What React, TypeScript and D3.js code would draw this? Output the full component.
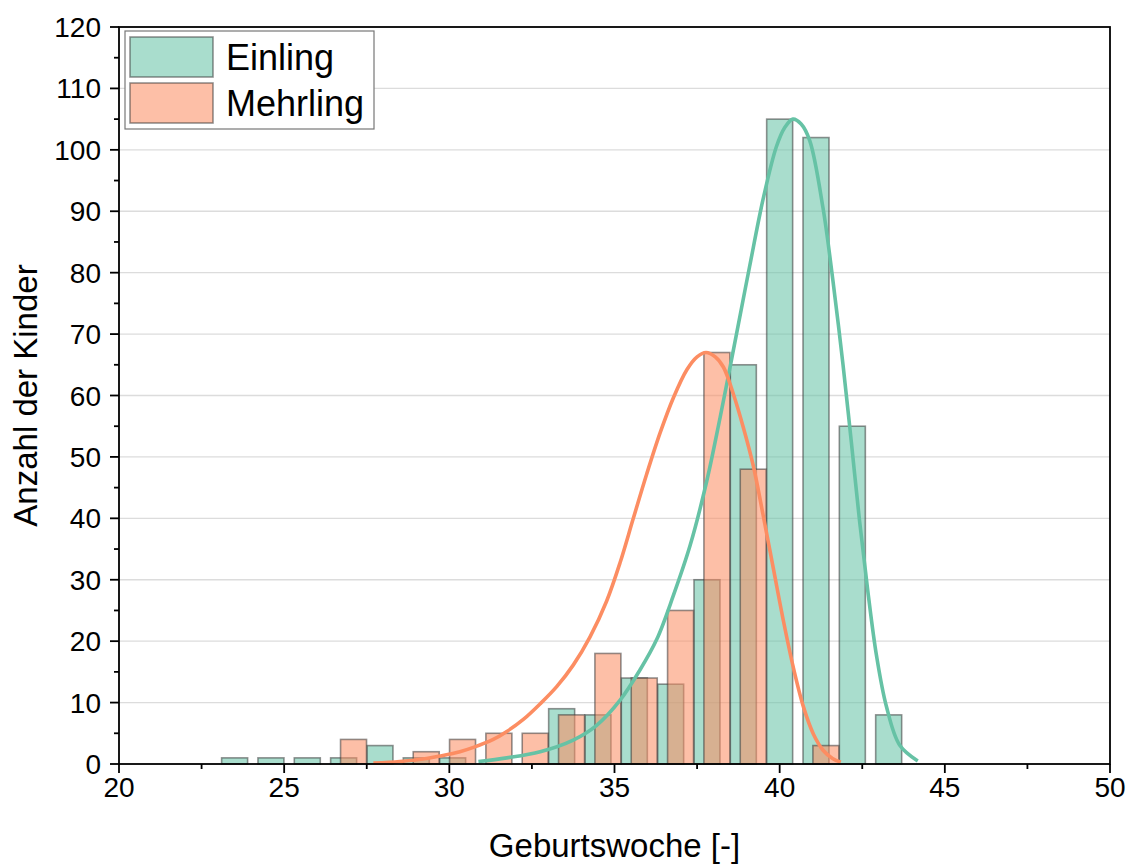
import React from 'react';
import * as d3 from 'd3';

// ---- data ----
const einlingWeeks = [23.5, 24.6, 25.7, 26.8, 27.9, 29.0, 30.1, 31.2, 32.3, 33.4, 34.5, 35.6, 36.7, 37.8, 38.9, 40.0, 41.1, 42.2, 43.3];
const einlingCounts = [1, 1, 1, 1, 3, 1, 1, 0, 0, 9, 8, 14, 13, 30, 65, 105, 102, 55, 8];

const mehrlingWeeks = [27.1, 28.2, 29.3, 30.4, 31.5, 32.6, 33.7, 34.8, 35.9, 37.0, 38.1, 39.2, 40.3, 41.4];
const mehrlingCounts = [4, 0, 2, 4, 5, 5, 8, 18, 14, 25, 67, 48, 0, 3];

// distribution curves
const einlingCurveX = [30.88, 31.74, 32.75, 33.75, 34.46, 35.17, 35.77, 36.28, 36.78, 37.29, 37.79, 38.2, 38.7, 39.09, 39.5, 39.9, 40.15, 40.4, 40.65, 40.91, 41.31, 41.61, 41.92, 42.17, 42.42, 42.67, 42.93, 43.23, 43.63, 44.18];
const einlingCurveY = [0.4, 1.0, 2.0, 3.9, 6.3, 10.4, 15.3, 20.3, 27.4, 35.6, 46.0, 56.5, 70.2, 81.0, 92.0, 100.5, 103.6, 105, 104.2, 101.5, 90.6, 78.8, 64.9, 52.4, 39.5, 28.1, 17.7, 9.4, 3.1, 0.5];

const mehrlingCurveX = [27.7, 28.5, 29.31, 29.72, 30.32, 30.73, 31.33, 31.74, 32.25, 32.75, 33.25, 33.75, 34.26, 34.76, 35.17, 35.57, 35.98, 36.38, 36.78, 37.19, 37.5, 37.77, 38.05, 38.3, 38.6, 38.9, 39.2, 39.5, 39.81, 40.11, 40.41, 40.72, 41.02, 41.32, 41.6, 41.85];
const mehrlingCurveY = [0.15, 0.4, 0.9, 1.3, 2.0, 2.7, 4.0, 5.3, 7.3, 9.8, 12.6, 16.1, 20.7, 26.5, 32.8, 40.0, 47.3, 53.9, 59.6, 64.2, 66.3, 67, 66.3, 64.6, 60.2, 54.8, 48.6, 40.5, 31.8, 23.4, 15.8, 9.3, 4.9, 2.2, 0.9, 0.3];

const seriesNames = ['Einling', 'Mehrling'];
const xTicks = [20, 25, 30, 35, 40, 45, 50];
const xMinorTicks = [22.5, 27.5, 32.5, 37.5, 42.5, 47.5];
const yTicks = [0, 10, 20, 30, 40, 50, 60, 70, 80, 90, 100, 110, 120];
const yMinorTicks = [5, 15, 25, 35, 45, 55, 65, 75, 85, 95, 105, 115];
const xTitle = 'Geburtswoche [-]';
const yTitle = 'Anzahl der Kinder';

// ---- layout / style ----
const W = 1135;
const H = 865;
const PL = 119, PR = 1110, PT = 27, PB = 764;
const BAR_W = 0.787;
const FONT = '"Liberation Sans", Arial, Helvetica, sans-serif';
const GREEN = '#66c2a5';
const ORANGE = '#fc8d62';
const FILL_OPACITY = 0.56;

export default function App() {
  const x = d3.scaleLinear().domain([20, 50]).range([PL, PR]);
  const y = d3.scaleLinear().domain([0, 120]).range([PB, PT]);

  const line = d3
    .line<[number, number]>()
    .x((d) => x(d[0]))
    .y((d) => y(d[1]))
    .curve(d3.curveCatmullRom.alpha(0.5));

  const eCurve = einlingCurveX.map((v, i) => [v, einlingCurveY[i]] as [number, number]);
  const mCurve = mehrlingCurveX.map((v, i) => [v, mehrlingCurveY[i]] as [number, number]);

  const bars = (weeks: number[], counts: number[], color: string, key: string) =>
    weeks.map((w, i) =>
      counts[i] > 0 ? (
        <rect
          key={key + i}
          x={x(w - BAR_W / 2)}
          y={y(counts[i])}
          width={x(w + BAR_W / 2) - x(w - BAR_W / 2)}
          height={y(0) - y(counts[i])}
          fill={color}
          fillOpacity={FILL_OPACITY}
          stroke="#3a3a3a"
          strokeOpacity={0.55}
          strokeWidth={1.6}
        />
      ) : null
    );

  return (
    <svg
      width={W}
      height={H}
      style={{ position: 'absolute', left: 0, top: 0, background: '#fff' }}
      fontFamily={FONT}
    >
      <rect x={0} y={0} width={W} height={H} fill="#fff" />
      {/* grid */}
      {yTicks
        .filter((t) => t > 0 && t < 120)
        .map((t) => (
          <line key={'g' + t} x1={PL} x2={PR} y1={y(t)} y2={y(t)} stroke="#dcdcdc" strokeWidth={1.3} />
        ))}

      {/* bars */}
      {bars(einlingWeeks, einlingCounts, GREEN, 'e')}
      {bars(mehrlingWeeks, mehrlingCounts, ORANGE, 'm')}

      {/* curves */}
      <path d={line(eCurve) || ''} fill="none" stroke={GREEN} strokeWidth={3.6} />
      <path d={line(mCurve) || ''} fill="none" stroke={ORANGE} strokeWidth={3.6} />

      {/* frame */}
      <rect x={PL} y={PT} width={PR - PL} height={PB - PT} fill="none" stroke="#000" strokeWidth={1.8} />

      {/* x ticks */}
      {xTicks.map((t) => (
        <g key={'xt' + t}>
          <line x1={x(t)} x2={x(t)} y1={PB} y2={PB + 9} stroke="#000" strokeWidth={1.8} />
          <text x={x(t)} y={797} textAnchor="middle" fontSize={28} fill="#000">
            {t}
          </text>
        </g>
      ))}
      {xMinorTicks.map((t) => (
        <line key={'xm' + t} x1={x(t)} x2={x(t)} y1={PB} y2={PB + 5} stroke="#000" strokeWidth={1.8} />
      ))}

      {/* y ticks */}
      {yTicks.map((t) => (
        <g key={'yt' + t}>
          <line x1={PL - 9} x2={PL} y1={y(t)} y2={y(t)} stroke="#000" strokeWidth={1.8} />
          <text x={101} y={y(t)} dy="0.36em" textAnchor="end" fontSize={28} fill="#000">
            {t}
          </text>
        </g>
      ))}
      {yMinorTicks.map((t) => (
        <line key={'ym' + t} x1={PL - 5} x2={PL} y1={y(t)} y2={y(t)} stroke="#000" strokeWidth={1.8} />
      ))}

      {/* axis titles */}
      <text x={(PL + PR) / 2} y={857} textAnchor="middle" fontSize={33} fill="#000">
        {xTitle}
      </text>
      <text
        transform={`translate(37, ${(PT + PB) / 2}) rotate(-90)`}
        textAnchor="middle"
        fontSize={33}
        fill="#000"
      >
        {yTitle}
      </text>

      {/* legend */}
      <rect x={125} y={31} width={249} height={98} fill="#fff" stroke="#777" strokeWidth={1.2} />
      {seriesNames.map((name, i) => (
        <g key={name}>
          <rect
            x={130}
            y={37 + i * 46}
            width={83}
            height={40}
            fill={i === 0 ? GREEN : ORANGE}
            fillOpacity={FILL_OPACITY}
            stroke="#3a3a3a"
            strokeOpacity={0.55}
            strokeWidth={1.6}
          />
          <text x={226} y={70 + i * 46} fontSize={36} fill="#000">
            {name}
          </text>
        </g>
      ))}
    </svg>
  );
}
